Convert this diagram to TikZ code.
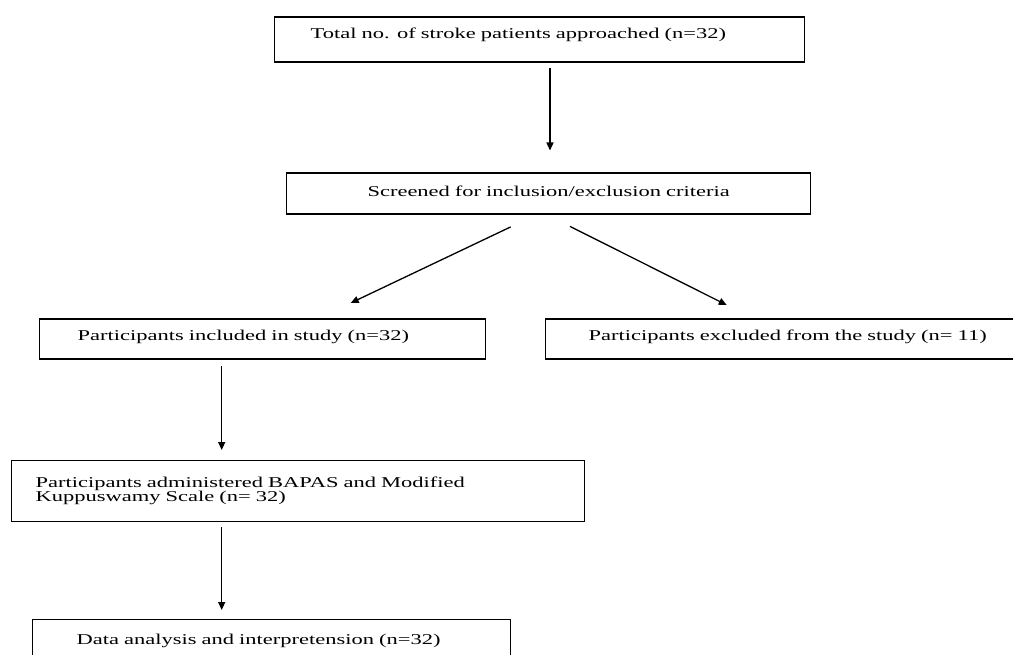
\documentclass[tikz,border=0pt]{standalone}
\usepackage{fontspec}
\setmainfont{Liberation Serif}[FakeStretch=1.5]
\usetikzlibrary{arrows.meta,positioning}

\begin{document}
\begin{tikzpicture}[x=1pt,y=-1pt,font={\fontsize{15}{14.5}\selectfont},
  box/.style={draw,line width=1.4pt,anchor=north west,inner ysep=0pt,align=left},
  arr/.style={-{Triangle[length=8pt,width=7pt]},line width=1.3pt}]
\clip (0,0) rectangle (1013,655);
\node[box,minimum width=530,minimum height=45,inner xsep=36,text width=458,text height=21.5,text depth=23.5] (total) at (274,16.5) {Total no. of stroke patients approached (n=32)};
\node[box,align=center,minimum width=524,minimum height=41,inner xsep=10,text width=504,text height=23.5,text depth=17.5] (screened) at (286,172.5) {Screened for inclusion/exclusion criteria};
\node[box,minimum width=446,minimum height=40,inner xsep=38,text width=370,text height=21,text depth=19] (included) at (39,318.5) {Participants included in study (n=32)};
\node[box,minimum width=520,minimum height=40,inner xsep=43,text width=434,text height=21.5,text depth=18.5] (excluded) at (545,318.5) {Participants excluded from the study (n= 11)};
\node[box,minimum width=573,minimum height=60.5,inner xsep=24,text width=525] (administered) at (11,460) {Participants administered BAPAS and Modified\\Kuppuswamy Scale (n= 32)};
\node[box,minimum width=478,minimum height=45,inner xsep=44,text width=390,text height=25,text depth=20] (analysis) at (32,619) {Data analysis and interpretension (n=32)};
\draw[arr,shorten <=5pt,shorten >=22pt] ([xshift=10.3pt]total.south) -- ([xshift=10.3pt]total.south |- screened.north);
\draw[arr] ([xshift=-38pt,yshift=-12pt]screened.south) -- ([xshift=88pt,yshift=15.5pt]included.north);
\draw[arr] ([xshift=21.3pt,yshift=-11.5pt]screened.south) -- ([xshift=181.7pt,yshift=13.5pt]excluded.north west);
\draw[arr,shorten <=6.5pt,shorten >=10pt] ([xshift=-41pt]included.south) -- ([xshift=-41pt]included.south |- administered.north);
\draw[arr,shorten <=5.5pt,shorten >=9pt] ([xshift=-41pt]included.south |- administered.south) -- ([xshift=-41pt]included.south |- analysis.north);
\end{tikzpicture}
\end{document}
